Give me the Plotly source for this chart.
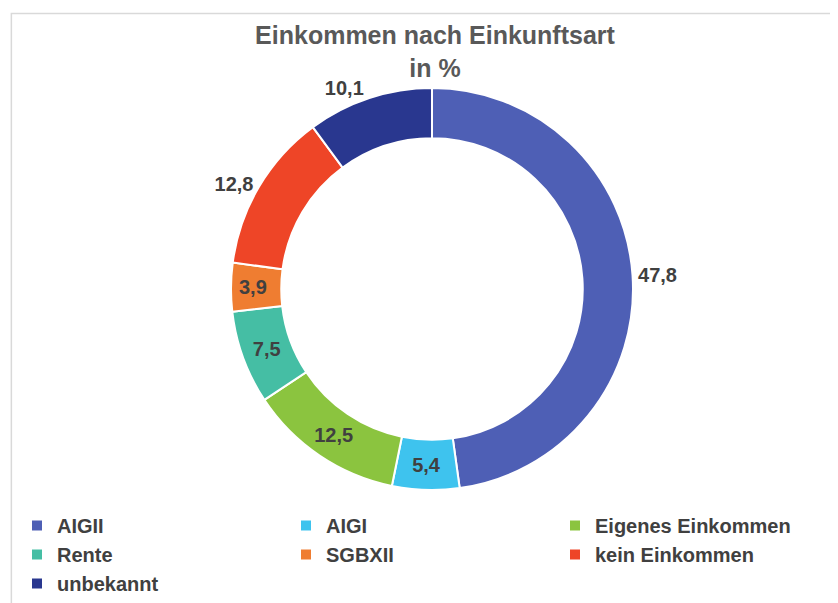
import plotly.graph_objects as go

labels = ["AIGII", "AIGI", "Eigenes Einkommen", "Rente", "SGBXII", "kein Einkommen", "unbekannt"]
values = [47.8, 5.4, 12.5, 7.5, 3.9, 12.8, 10.1]
value_text = ["47,8", "5,4", "12,5", "7,5", "3,9", "12,8", "10,1"]

colors = ["#4E5FB5", "#3EC3EE", "#8BC43F", "#45BEA4", "#EF7D31", "#EE4527", "#29378F"]
text_pos = ["outside", "inside", "inside", "inside", "inside", "outside", "outside"]

W, H = 838, 603
cx, cy, R = 424, 281, 201

fig = go.Figure()
fig.add_trace(go.Pie(
    labels=labels,
    values=values,
    text=value_text,
    textinfo="text",
    textposition=text_pos,
    insidetextorientation="horizontal",
    hole=0.75,
    sort=False,
    direction="clockwise",
    rotation=0,
    marker=dict(colors=colors, line=dict(color="white", width=2)),
    textfont=dict(family="Liberation Sans, Arial", size=20, color="#404040", weight="bold"),
    domain=dict(x=[(cx - R) / W, (cx + R) / W], y=[(H - cy - R) / H, (H - cy + R) / H]),
    hoverinfo="label+text",
))

fig.update_layout(
    width=W, height=H,
    margin=dict(l=0, r=0, t=0, b=0, autoexpand=False),
    paper_bgcolor="white",
    plot_bgcolor="white",
    title=dict(
        text="Einkommen nach Einkunftsart<br>in %",
        x=427 / W, xanchor="center", y=1 - 36 / H, yanchor="top",
        font=dict(family="Liberation Sans, Arial", size=25, color="#595959", weight="bold"),
    ),
    legend=dict(
        orientation="h",
        x=9 / W, xanchor="left",
        y=1 - 498 / H, yanchor="top",
        entrywidth=224, entrywidthmode="pixels",
        font=dict(family="Liberation Sans, Arial", size=20, color="#404040", weight="bold"),
        traceorder="normal",
        bgcolor="rgba(0,0,0,0)",
    ),
    shapes=[dict(type="rect", xref="paper", yref="paper", x0=0.004, x1=0.998, y0=0.004, y1=0.991,
                 line=dict(color="#d9d9d9", width=1.5), fillcolor="rgba(0,0,0,0)", layer="below")],
)

fig.write_html("out.html")
